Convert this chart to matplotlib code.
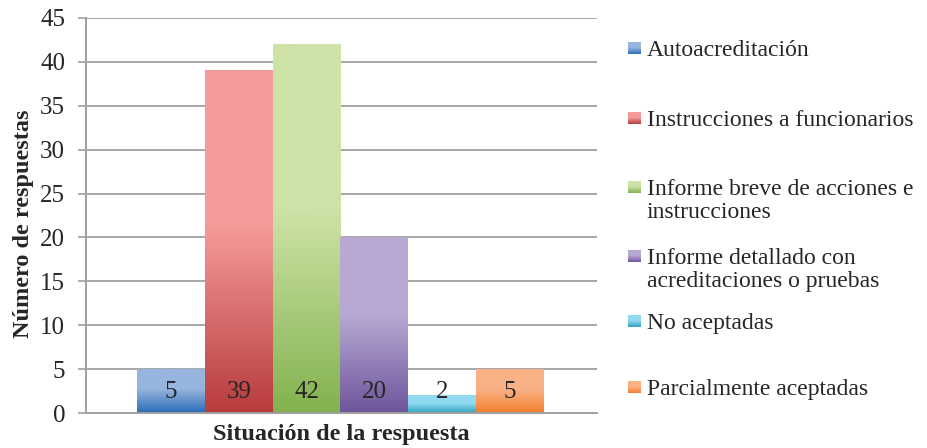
import numpy as np
import matplotlib.pyplot as plt
from matplotlib.colors import LinearSegmentedColormap

categorias = ["Autoacreditación", "Instrucciones a funcionarios",
              "Informe breve de acciones e\ninstrucciones",
              "Informe detallado con\nacreditaciones o pruebas",
              "No aceptadas", "Parcialmente aceptadas"]
valores = [5, 39, 42, 20, 2, 5]
# (top, bottom) colors of each gradient
colores_top = ["#97b5de", "#f59c9b", "#cde3a7", "#b8a8d3", "#90daf2", "#f9b286"]
colores_bot = ["#2a6cb8", "#b83b3c", "#83b24e", "#6e559c", "#30a2bf", "#f47e2d"]
yticks = [0, 5, 10, 15, 20, 25, 30, 35, 40, 45]

plt.rcParams['font.family'] = ['Liberation Serif', 'DejaVu Serif']
texto = "#262626"
fs = 18

fig = plt.figure(figsize=(9.27, 4.48), dpi=100)
ax = fig.add_axes([86/927, 35/448, 511/927, 395/448])

def gradiente(top, bot):
    return LinearSegmentedColormap.from_list("g", [(0, bot), (0.55, top), (1, top)])

grad = np.linspace(0, 1, 256).reshape(-1, 1)
for i, v in enumerate(valores):
    cmap = gradiente(colores_top[i], colores_bot[i])
    ax.imshow(grad, cmap=cmap, origin="lower", aspect="auto",
              extent=(i - 0.5, i + 0.5, 0, v), zorder=2, interpolation="bilinear")
    ax.text(i, 2.4, str(v), ha="center", va="center", fontsize=fs, color=texto, zorder=3)

ax.set_xlim(-1.25, 6.28)
ax.set_ylim(0, 45)
ax.set_yticks(yticks)
ax.set_xticks([])
ax.yaxis.grid(True, color="#a6a6a6", linewidth=1.4)
ax.set_axisbelow(True)
for s in ["top", "right"]:
    ax.spines[s].set_visible(False)
for s in ["left", "bottom"]:
    ax.spines[s].set_color("#a0a0a0")
    ax.spines[s].set_linewidth(1.4)
ax.tick_params(axis="y", length=6, width=1.2, color="#a0a0a0", pad=9,
               labelsize=fs, labelcolor=texto)
ax.set_ylabel("Número de respuestas", fontsize=17.5, fontweight="bold", color=texto)
ax.yaxis.set_label_coords(-0.102, 0.48)
ax.set_xlabel("Situación de la respuesta", fontsize=17.5, fontweight="bold", color=texto, labelpad=8)

# legend drawn in pixel coordinates
lg = fig.add_axes([0, 0, 1, 1])
lg.axis("off")
leg_y = [49, 119, 188, 257, 322, 388]
alto_linea = 24
for i, lab in enumerate(categorias):
    y = leg_y[i]
    n = lab.count("\n")
    cmap = gradiente(colores_top[i], colores_bot[i])
    lg.imshow(grad, cmap=cmap, origin="lower", aspect="auto",
              extent=(628, 641, y + 5, y - 7), interpolation="bilinear")
    lg.text(647, y + n * alto_linea / 2 + 1, lab, ha="left", va="center", fontsize=17,
            color=texto, linespacing=1.15)
lg.set_xlim(0, 927)
lg.set_ylim(448, 0)

fig.savefig("out.png")
